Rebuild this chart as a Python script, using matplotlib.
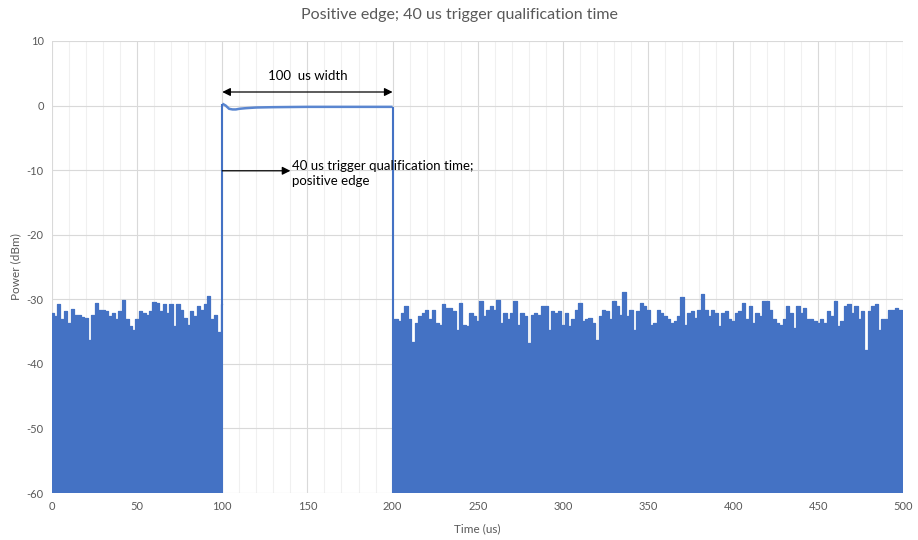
"""Scope capture: positive-edge trigger with 40 us qualification time."""

import matplotlib

matplotlib.use("Agg")
import matplotlib.pyplot as plt
import numpy as np

plt.rcParams["font.family"] = ["Lato", "DejaVu Sans"]
plt.rcParams["axes.unicode_minus"] = False

NOISE_PRE_START, NOISE_PRE_STEP = 0, 2
noise_pre = [
    -32.1, -32.6, -30.8, -33.0, -31.8, -33.7, -31.5, -32.4, -32.4, -32.7,
    -32.9, -36.3, -32.4, -30.5, -31.6, -31.6, -31.8, -32.6, -32.1, -33.1,
    -31.8, -30.1, -33.1, -34.2, -34.7, -33.1, -31.8, -32.1, -32.4, -31.8,
    -30.4, -30.5, -31.8, -30.8, -32.1, -30.8, -34.2, -30.8, -31.6, -32.9,
    -34.0, -31.8, -32.6, -31.1, -31.6, -30.8, -29.5, -33.1, -32.4, -35.0,
    -30.8,
]

# noise floor after the pulse, every 2 us from 200 to 500 us
NOISE_POST_START, NOISE_POST_STEP = 200, 2
noise_post = [
    -34.2,
    -33.1, -33.4, -32.1, -31.0, -33.1, -36.6, -33.7, -32.6, -32.1, -31.7,
    -33.1, -31.6, -33.7, -34.0, -30.8, -31.3, -31.3, -31.8, -34.7, -30.5,
    -34.0, -34.2, -32.1, -32.6, -33.4, -30.3, -32.6, -31.6, -31.1, -31.6,
    -30.1, -33.7, -32.1, -33.1, -32.1, -30.3, -34.0, -32.1, -32.6, -36.8,
    -32.4, -32.1, -32.4, -31.1, -31.1, -34.7, -31.8, -32.1, -31.8, -34.0,
    -32.1, -34.2, -33.1, -31.6, -30.5, -33.4, -33.1, -32.9, -33.7, -36.3,
    -32.6, -31.6, -31.8, -33.1, -30.3, -31.1, -32.4, -28.9, -32.6, -31.6,
    -34.7, -31.8,
    -30.5, -31.1, -31.6, -34.0, -33.7, -31.6, -32.1, -32.6, -33.1, -33.7,
    -33.4, -32.6, -29.7, -34.0, -32.1, -31.8, -32.9, -31.6, -29.2, -31.6,
    -32.6, -31.6, -32.1, -34.2, -32.1, -31.8, -33.1, -33.4, -32.1, -31.8,
    -30.5, -33.1, -31.1, -33.7, -32.1, -32.6, -30.3, -30.3, -31.6, -33.1,
    -33.7, -34.0, -33.1, -31.1, -32.1, -34.5, -31.1, -32.1, -31.3, -33.1,
    -33.1, -33.4, -33.7, -33.1, -33.7, -31.8, -32.6, -30.3, -34.2, -33.4,
    -31.1, -30.8, -32.1, -31.1, -33.1, -31.8, -37.9, -31.8, -31.1, -30.8,
    -34.7, -33.1, -33.1, -31.6, -31.6, -31.3, -31.6, -41.0,
]

# pulse top (carrier on), 100..200 us
pulse_t = [100, 102, 104, 106, 108, 110, 114, 120, 130, 150, 170, 190, 200]
pulse_p = [0.3, 0.0, -0.5, -0.6, -0.6, -0.5, -0.4, -0.3, -0.25, -0.2, -0.2, -0.2, -0.2]

PULSE_WIDTH_US = 100
QUAL_TIME_US = 40
FLOOR = -60

BLUE = "#4472C4"
GRAY_TXT = "#595959"

t_pre = NOISE_PRE_START + NOISE_PRE_STEP * np.arange(len(noise_pre))
t_post = NOISE_POST_START + NOISE_POST_STEP * np.arange(len(noise_post))

fig = plt.figure(figsize=(9.18, 5.4), dpi=100)
ax = fig.add_axes([0.0566, 0.087, 0.9276, 0.8371])

for t, p in ((t_pre, noise_pre), (t_post, noise_post)):
    ax.fill_between(t, FLOOR, p, color=BLUE, lw=0, step="mid")
    ax.step(t, p, where="mid", color=BLUE, lw=0.9)

ax.plot(pulse_t, pulse_p, color="#5A86D0", lw=1.8, solid_capstyle="butt")
ax.vlines([pulse_t[0], pulse_t[-1]], FLOOR, [pulse_p[0], pulse_p[-1]], color=BLUE, lw=1.5)

# annotations
t0 = pulse_t[0]
ax.annotate("", xy=(t0, 2.1), xytext=(t0 + PULSE_WIDTH_US, 2.1),
            arrowprops=dict(arrowstyle="<|-|>", color="black", lw=0.9,
                            shrinkA=0, shrinkB=0, mutation_scale=12))
ax.text(t0 + PULSE_WIDTH_US / 2, 4.6, "100  us width", ha="center", va="center", fontsize=9.5)
ax.annotate("", xy=(t0 + QUAL_TIME_US, -10.1), xytext=(t0, -10.1),
            arrowprops=dict(arrowstyle="-|>", color="black", lw=0.9,
                            shrinkA=0, shrinkB=0, mutation_scale=12))
ax.text(t0 + QUAL_TIME_US + 1.0, -10.5, "40 us trigger qualification time;\npositive edge",
        ha="left", va="center", fontsize=9.5, linespacing=1.25)

ax.set_xlim(0, 500)
ax.set_ylim(FLOOR, 10)
ax.set_xticks(np.arange(0, 501, 50))
ax.set_xticks(np.arange(0, 501, 10), minor=True)
ax.set_yticks(np.arange(-60, 11, 10))
ax.grid(which="major", color="#D9D9D9", lw=0.8)
ax.grid(which="minor", axis="x", color="#F0F0F0", lw=0.8)
ax.set_axisbelow(True)
for s in ax.spines.values():
    s.set_visible(False)
ax.tick_params(which="both", length=0, labelsize=8, labelcolor=GRAY_TXT, pad=6)

ax.set_xlabel("Time (us)", fontsize=8.5, color=GRAY_TXT, labelpad=8)
ax.set_ylabel("Power (dBm)", fontsize=8.5, color=GRAY_TXT, labelpad=4)
fig.suptitle("Positive edge; 40 us trigger qualification time", y=0.985, fontsize=11.5, color=GRAY_TXT)

fig.savefig("out.png", dpi=100)
